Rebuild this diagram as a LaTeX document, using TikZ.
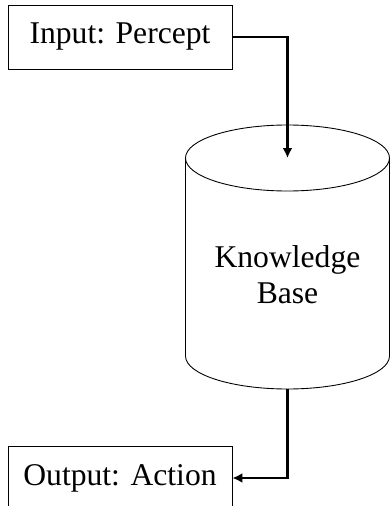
\documentclass[tikz,border=0pt]{standalone}
\usepackage{fontspec}
\setmainfont{Liberation Serif}
\usetikzlibrary{arrows.meta}

\begin{document}
\begin{tikzpicture}[font=\fontsize{18}{20.5}\selectfont]
	\useasboundingbox (0,0) rectangle (7.8,10.12);
	
	\begin{scope}[every node/.style={rectangle,draw,line width=0.5pt,minimum width=4.48cm,minimum height=1.28cm,inner sep=0pt}]
		\node (In) at (2.4,9.38) {Input: Percept};
		\node (Out) at (2.4,0.56) {Output: Action};
	\end{scope}
	
	% knowledge base drum
	\coordinate (KBtop) at (5.75,6.96);
	\coordinate (KBbot) at (5.75,2.34);
	\draw [line width=0.5pt] (5.75,6.96) ellipse (2.04 and 0.66);
	\draw [line width=0.5pt] (3.71,6.96) -- (3.71,3.0) arc (180:360:2.04 and 0.66) -- (7.79,6.96);
	\node [align=center] (KB) at (5.75,4.62) {Knowledge\\Base};
	
	\begin{scope}[flow/.style={draw=black,line width=1.6pt,-{Latex[length=0.2cm,width=0.2cm]}}]
		\draw [flow] (In) -| (KBtop);
		\draw [flow] (KBbot) |- (Out);
	\end{scope}
\end{tikzpicture}
\end{document}
